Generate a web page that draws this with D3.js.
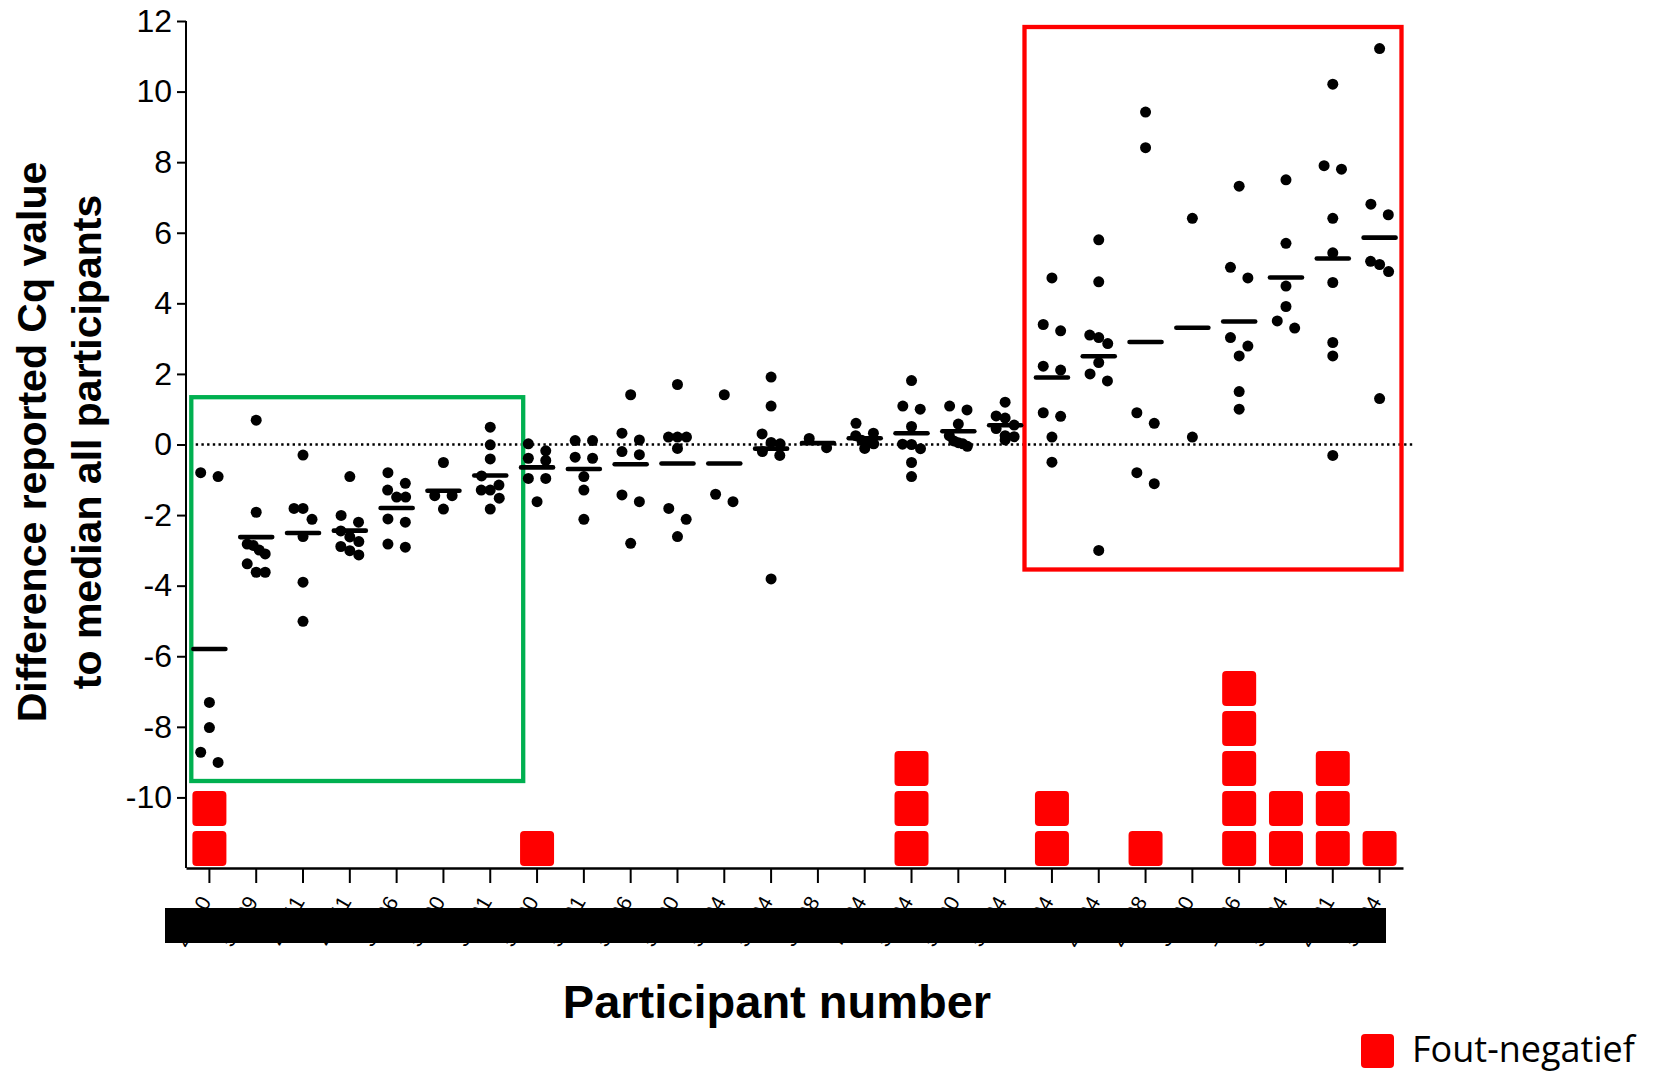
<!DOCTYPE html>
<html>
<head>
<meta charset="utf-8">
<script src="https://cdn.jsdelivr.net/npm/d3@7"></script>
<style>
  html, body { margin: 0; padding: 0; background: #fff; }
  svg { display: block; }
</style>
</head>
<body>
<svg id="chart" width="1660" height="1073"></svg>
<script>
// ---------------- DATA ----------------
const participants = ["23-10","55-09","21-11","27-11","31-06","58-00","35-01","52-00","57-01","53-06","56-00","54-04","52-04","35-08","71-04","53-04","51-00","55-04","5-04","24-04","28-08","30-00","12-06","53-04b","21-01","55-04b"];

const cqDifference = [
  [-0.80, -0.91, -7.31, -8.02, -8.72, -9.01],
  [0.69, -1.92, -2.82, -2.86, -2.99, -3.10, -3.38, -3.62, -3.62],
  [-0.30, -1.81, -1.81, -2.12, -2.61, -3.90, -5.01],
  [-0.91, -2.01, -2.20, -2.45, -2.62, -2.75, -2.89, -3.01, -3.13],
  [-0.80, -1.10, -1.29, -1.49, -1.49, -2.11, -2.20, -2.82, -2.91],
  [-0.51, -1.45, -1.45, -1.83],
  [0.49, -0.01, -0.41, -0.89, -1.15, -1.29, -1.29, -1.52, -1.83],
  [0.02, -0.18, -0.39, -0.45, -0.96, -0.96, -1.62],
  [0.11, 0.11, -0.36, -0.39, -0.91, -1.29, -2.12],
  [1.41, 0.32, 0.13, -0.20, -0.29, -1.43, -1.62, -2.80],
  [1.70, 0.21, 0.21, 0.21, -0.11, -1.81, -2.12, -2.61],
  [1.41, -1.41, -1.62],
  [1.91, 1.09, 0.30, 0.06, 0.02, -0.20, -0.31, -3.81],
  [0.17, -0.09],
  [0.60, 0.32, 0.25, 0.12, 0.05, 0.02, -0.11],
  [1.81, 1.09, 1.00, 0.51, 0.01, 0.00, -0.12, -0.51, -0.91],
  [1.09, 0.98, 0.58, 0.25, 0.10, 0.05, 0.02, -0.05],
  [1.20, 0.81, 0.75, 0.55, 0.45, 0.25, 0.22, 0.13],
  [4.72, 3.40, 3.22, 2.22, 2.11, 0.90, 0.80, 0.21, -0.50],
  [5.80, 4.61, 3.10, 3.03, 2.86, 2.32, 2.00, 1.80, -3.00],
  [9.42, 8.41, 0.90, 0.60, -0.80, -1.11],
  [6.41, 0.21],
  [7.32, 5.02, 4.72, 3.03, 2.79, 2.51, 1.50, 1.00],
  [7.50, 5.70, 4.49, 3.91, 3.50, 3.30],
  [10.21, 7.90, 7.80, 6.41, 5.43, 4.59, 2.89, 2.51, -0.31],
  [11.22, 6.81, 6.51, 5.19, 5.10, 4.90, 1.30]
];

const falseNegatives = [2,0,0,0,0,0,0,1,0,0,0,0,0,0,0,3,0,0,2,0,1,0,5,2,3,1];

const yTickValues = [-10, -8, -6, -4, -2, 0, 2, 4, 6, 8, 10, 12];
const yTitleLines = ["Difference reported Cq value", "to median all participants"];
const xTitle = "Participant number";
const legendLabel = "Fout-negatief";

// ---------------- LAYOUT ----------------
(function () {
const svg = d3.select("#chart");
const plotL = 186, plotR = 1403, plotT = 21, plotB = 868;

const x = d3.scaleBand().domain(participants).range([plotL, plotR]).paddingInner(0).paddingOuter(0);
const y = d3.scaleLinear().domain([-12, 12]).range([plotB, plotT]);

const dotR = 5.5;
const black = "#000";

// zero reference line (dotted)
svg.append("line")
  .attr("x1", plotL + 4).attr("x2", 1414)
  .attr("y1", y(0)).attr("y2", y(0))
  .attr("stroke", black).attr("stroke-width", 2.4)
  .attr("stroke-dasharray", "2.4,3.3");

// highlight boxes
svg.append("rect")
  .attr("x", 191.3).attr("y", 397.2)
  .attr("width", 523.2 - 191.3).attr("height", 781 - 397.2)
  .attr("fill", "none").attr("stroke", "#00B050").attr("stroke-width", 4.3);

svg.append("rect")
  .attr("x", 1024.5).attr("y", 27)
  .attr("width", 1401.5 - 1024.5).attr("height", 569.5 - 27)
  .attr("fill", "none").attr("stroke", "#FF0000").attr("stroke-width", 4.3);

// swarm offsets: points that would overlap vertically are spread sideways
function swarm(vals) {
  const items = vals.map(v => ({ v, py: y(v) })).sort((a, b) => a.py - b.py);
  const out = [];
  let i = 0;
  while (i < items.length) {
    const start = items[i].py;
    const group = [];
    while (i < items.length && items[i].py - start < dotR * 2) { group.push(items[i]); i++; }
    const n = group.length;
    const step = n > 1 ? Math.min(17.4, 18 / (n - 1)) : 0;
    group.forEach((g, k) => out.push({ v: g.v, dx: (k - (n - 1) / 2) * step }));
  }
  return out;
}

// points
const pointsG = svg.append("g");
participants.forEach((p, i) => {
  const cx = x(p) + x.bandwidth() / 2;
  pointsG.selectAll(null)
    .data(swarm(cqDifference[i]))
    .enter().append("circle")
    .attr("cx", d => cx + d.dx)
    .attr("cy", d => y(d.v))
    .attr("r", dotR)
    .attr("fill", black);
});

// mean lines
svg.append("g").selectAll("line")
  .data(participants.map((p, i) => ({ p, m: d3.mean(cqDifference[i]) })))
  .enter().append("line")
  .attr("x1", d => x(d.p) + x.bandwidth() / 2 - 16)
  .attr("x2", d => x(d.p) + x.bandwidth() / 2 + 16)
  .attr("y1", d => y(d.m)).attr("y2", d => y(d.m))
  .attr("stroke", black).attr("stroke-width", 4.6).attr("stroke-linecap", "round");

// false negative squares (stacked)
const sqW = 34, sqH = 35, sqPeriod = 40;
const sqData = [];
participants.forEach((p, i) => {
  for (let k = 0; k < falseNegatives[i]; k++) sqData.push({ p, k });
});
svg.append("g").selectAll("rect")
  .data(sqData)
  .enter().append("rect")
  .attr("x", d => x(d.p) + x.bandwidth() / 2 - sqW / 2)
  .attr("y", d => y(-12) - 2 - sqH - d.k * sqPeriod)
  .attr("width", sqW).attr("height", sqH)
  .attr("rx", 4).attr("ry", 4)
  .attr("fill", "#FF0000");

// axes
const yAxis = d3.axisLeft(y).tickValues(yTickValues).tickSize(9).tickSizeOuter(0).tickPadding(5)
  .tickFormat(d => String(d));
const gy = svg.append("g").attr("transform", `translate(${plotL},0)`).call(yAxis);
gy.select(".domain").attr("stroke", black).attr("stroke-width", 2).attr("d", `M0,${y(12)}V${y(-12)}`);
gy.selectAll(".tick line").attr("stroke", black).attr("stroke-width", 2);
gy.selectAll(".tick text")
  .attr("font-family", "'Liberation Sans', Arial, sans-serif")
  .attr("font-size", 32).attr("fill", black);

const xAxis = d3.axisBottom(x).tickSize(15).tickSizeOuter(0)
  .tickFormat(d => d.replace(/b$/, ""));
const gx = svg.append("g").attr("transform", `translate(0,${plotB})`).call(xAxis);
gx.select(".domain").attr("stroke", black).attr("stroke-width", 2.5);
gx.selectAll(".tick line").attr("stroke", black).attr("stroke-width", 2);
gx.selectAll(".tick text")
  .attr("font-family", "'Liberation Sans', Arial, sans-serif")
  .attr("font-size", 21).attr("fill", black)
  .attr("x", 0).attr("y", 0).attr("dy", "0.35em")
  .attr("text-anchor", "end")
  .attr("transform", "translate(-4,30) rotate(-60)");

// mask over participant labels
svg.append("rect")
  .attr("x", 165).attr("y", 908).attr("width", 1386 - 165).attr("height", 35)
  .attr("fill", black);

// axis titles
svg.append("text")
  .attr("x", 777).attr("y", 1018)
  .attr("text-anchor", "middle")
  .attr("font-family", "'Liberation Sans', Arial, sans-serif")
  .attr("font-weight", "bold").attr("font-size", 47)
  .text(xTitle);

const yTitle = svg.append("text")
  .attr("transform", "translate(0,442) rotate(-90)")
  .attr("text-anchor", "middle")
  .attr("font-family", "'Liberation Sans', Arial, sans-serif")
  .attr("font-weight", "bold").attr("font-size", 41);
yTitle.selectAll("tspan").data(yTitleLines).enter().append("tspan")
  .attr("x", 0).attr("y", (d, i) => 45.5 + i * 55)
  .text(d => d);

// legend
svg.append("rect")
  .attr("x", 1361).attr("y", 1034).attr("width", 33).attr("height", 34)
  .attr("rx", 4).attr("ry", 4).attr("fill", "#FF0000");
svg.append("text")
  .attr("x", 1412).attr("y", 1062)
  .attr("font-family", "'Open Sans', 'Noto Sans', sans-serif")
  .attr("font-size", 36).attr("fill", black)
  .text(legendLabel);
})();
</script>
</body>
</html>
